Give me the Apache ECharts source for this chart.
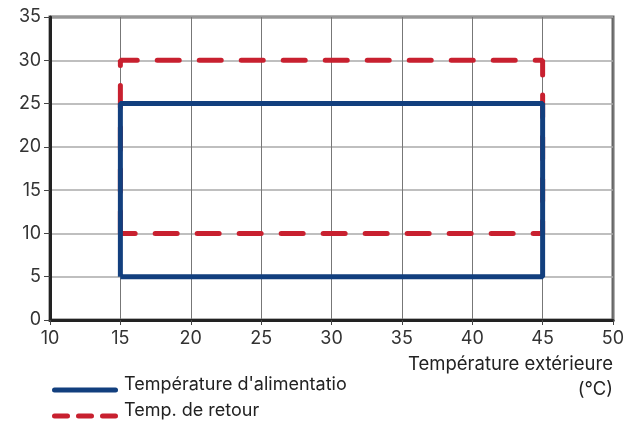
<!DOCTYPE html>
<html><head><meta charset="utf-8">
<script src="https://cdn.jsdelivr.net/npm/echarts@6/dist/echarts.min.js"></script>
<style>html,body{margin:0;padding:0;background:#fff}#c{width:627px;height:423px}</style>
</head><body><div id="c"></div>
<script>
const seriesNames = ["Température d'alimentation", "Temp. de retour"];
const supplyX = [15, 15, 45, 45, 15];
const supplyY = [5, 25, 25, 5, 5];
const returnX = [15, 15, 45, 45, 15];
const returnY = [10, 30, 30, 10, 10];
const xName = "Température extérieure\n(°C)";

const pairs = (xs, ys) => xs.map((x, i) => [x, ys[i]]);
const FONT = 'Inter';
const BLUE = '#123f7e', RED = '#c8202f';
const solidIcon = 'path://M2.5,0H63.5A2.5,2.5,0,0,1,63.5,5H2.5A2.5,2.5,0,0,1,2.5,0Z';
const dashIcon = 'path://M2.5,0H15.5A2.5,2.5,0,0,1,15.5,5H2.5A2.5,2.5,0,0,1,2.5,0Z' +
  'M26.5,0H39.5A2.5,2.5,0,0,1,39.5,5H26.5A2.5,2.5,0,0,1,26.5,0Z' +
  'M50.5,0H63.5A2.5,2.5,0,0,1,63.5,5H50.5A2.5,2.5,0,0,1,50.5,0Z';
const chart = echarts.init(document.getElementById('c'));
chart.setOption({
  animation: false,
  grid: { left: 50, right: 14, top: 17, bottom: 103, show: true, borderColor: '#666', borderWidth: 3, outerBoundsMode: 'none', containLabel: false },
  xAxis: {
    type: 'value', min: 10, max: 50, interval: 5,
    name: xName, nameLocation: 'end', nameGap: 0, nameMoveOverlap: false,
    nameTextStyle: { fontFamily: FONT, fontSize: 18.5, color: '#222', align: 'right', verticalAlign: 'top', lineHeight: 25, padding: [32, 0, 0, 0] },
    axisLine: { lineStyle: { color: '#222', width: 3 } },
    axisTick: { show: true, length: 5, lineStyle: { color: '#444' } },
    axisLabel: { fontFamily: FONT, fontSize: 18, color: '#333', margin: 10 },
    splitLine: { lineStyle: { color: '#777', width: 1 } }
  },
  yAxis: {
    type: 'value', min: 0, max: 35, interval: 5,
    axisLine: { show: true, lineStyle: { color: '#222', width: 3 } },
    axisTick: { show: true, length: 6, lineStyle: { color: '#444' } },
    axisLabel: { fontFamily: FONT, fontSize: 18, color: '#333', margin: 9 },
    splitLine: { lineStyle: { color: '#aaa', width: 1.5 } }
  },
  legend: {
    orient: 'vertical', left: 47, top: 371, height: 60, itemWidth: 66, itemHeight: 5, itemGap: -2,
    lineStyle: { width: 0 },
    formatter: '{t|{name}}',
    textStyle: { fontFamily: FONT, fontSize: 18, color: '#222', width: 232, overflow: 'truncate', ellipsis: '',
      rich: { t: { fontFamily: FONT, fontSize: 18, color: '#222', lineHeight: 18, padding: [0, 0, 10, 1] } } },
    data: [{ name: seriesNames[0], icon: solidIcon }, { name: seriesNames[1], icon: dashIcon }]
  },
  series: [
    { name: seriesNames[0], type: 'line', data: pairs(supplyX, supplyY), symbol: 'none', z: 5,
      lineStyle: { color: BLUE, width: 5 }, itemStyle: { color: BLUE } },
    { name: seriesNames[1], type: 'line', data: pairs(returnX, returnY), symbol: 'none', z: 3,
      lineStyle: { color: RED, width: 5, type: [22, 20], cap: 'round' }, itemStyle: { color: RED } }
  ]
});
</script></body></html>
